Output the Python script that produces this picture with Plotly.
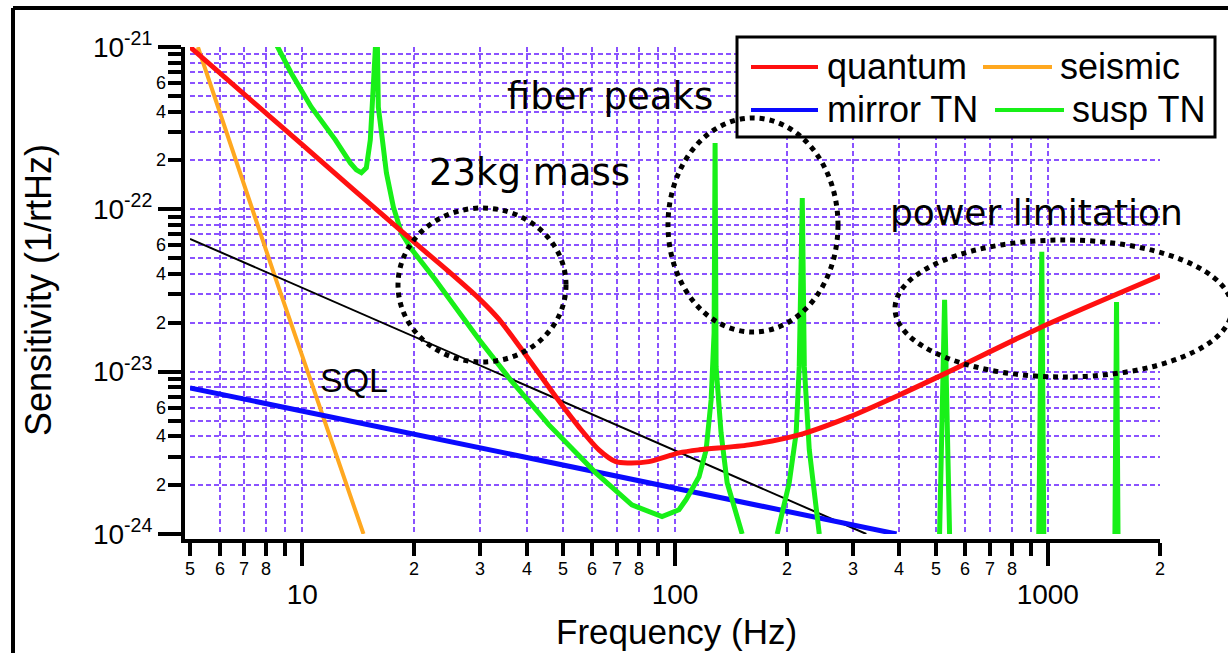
import math
import plotly.graph_objects as go

W, H = 1228, 653

# ---------------- data ----------------
quantum_f = [5, 10, 20, 24.7, 30, 33.6, 38.1, 47.9, 55.2, 62.5, 69.4, 75.2, 85.1, 102.5, 116, 158, 215, 294,
             400, 535, 951, 2000]
quantum_h = [1.0e-21, 2.5e-22, 6.25e-23, 4.14e-23, 2.78e-23, 2.12e-23, 1.45e-23, 7.0e-24, 4.57e-24, 3.30e-24,
             2.79e-24, 2.74e-24, 2.79e-24, 3.16e-24, 3.30e-24, 3.54e-24, 4.08e-24, 5.27e-24, 7.19e-24, 9.83e-24,
             1.86e-23, 3.89e-23]

seismic_f = [5.25, 8.5, 14.6]
seismic_h = [1.0e-21, 3.7e-23, 1.0e-24]

mirror_f = [5, 393]
mirror_h = [7.95e-24, 1.0e-24]

sql_f = [5, 326]
sql_h = [6.58e-23, 1.0e-24]

susp_f = [8.0, 8.62, 9.34, 10.57, 12.27, 13.46, 13.97, 14.41, 14.86, 15.23, 15.43, 15.72, 15.8, 15.91, 16.0,
          16.41, 16.82, 17.56, 18.45, 19.63, 22.78, 29.73, 36.2, 45.9, 61.3, 76.6, 92.3, 102.5, 107.1,
          116.0, 121.2, 125.0, 127.3, 128.1, 128.9, 132.9, 138.0, 151.4, None,
          188.0, 202.5, 211.4, 215.4, 219.5, 222.3, 229.2, 243.8, None,
          512.6, 528.7, 545.2, None,
          945.8, 963.7, 975.5, None,
          1514, 1529, 1543]
susp_h = [1.37e-21, 1.0e-21, 6.92e-22, 4.27e-22, 2.68e-22, 1.93e-22, 1.75e-22, 1.68e-22, 1.80e-22, 2.68e-22,
          4.27e-22, 1.0e-21, 3.0e-21, 1.0e-21, 4.27e-22, 2.68e-22, 1.68e-22, 1.035e-22, 7.16e-23, 5.70e-23,
          3.67e-23, 1.59e-23, 8.91e-24, 4.70e-24, 2.38e-24, 1.51e-24, 1.28e-24, 1.41e-24, 1.63e-24,
          2.25e-24, 3.30e-24, 6.70e-24, 1.73e-23, 2.56e-22, 1.07e-23, 4.20e-24, 2.07e-24, 1.0e-24, None,
          1.0e-24, 2.07e-24, 4.20e-24, 1.07e-23, 1.175e-22, 1.07e-23, 3.30e-24, 1.0e-24, None,
          1.0e-24, 2.77e-23, 1.0e-24, None,
          1.0e-24, 5.47e-23, 1.0e-24, None,
          1.0e-24, 2.69e-23, 1.0e-24]

x_range = [5, 2000]
y_range = [1e-24, 1e-21]

x_major = [10, 100, 1000]
x_major_text = ["10", "100", "1000"]
x_minor = [5, 6, 7, 8, 9, 20, 30, 40, 50, 60, 70, 80, 90, 200, 300, 400, 500, 600, 700, 800, 900, 2000]
x_minor_lab_vals = [5, 6, 7, 8, 20, 30, 40, 50, 60, 70, 80, 200, 300, 400, 500, 600, 700, 800, 2000]
x_minor_lab_text = ["5", "6", "7", "8", "2", "3", "4", "5", "6", "7", "8", "2", "3", "4", "5", "6", "7", "8", "2"]

y_major = [1e-24, 1e-23, 1e-22, 1e-21]
y_major_text = ["10<sup>-24</sup>", "10<sup>-23</sup>", "10<sup>-22</sup>", "10<sup>-21</sup>"]
y_minor = [m * d for d in (1e-24, 1e-23, 1e-22) for m in range(2, 10)]
y_minor_lab_vals = [m * d for d in (1e-24, 1e-23, 1e-22) for m in (2, 4, 6)]
y_minor_lab_text = ["2", "4", "6"] * 3

legend_names = ["quantum", "seismic", "mirror TN", "susp TN"]

# ---------------- styles ----------------
RED, ORANGE, BLUE, GREEN, BLACK = "#ff1010", "#ffa820", "#0a0aff", "#18f018", "#000000"
GRID = "#8a52ff"
DASH = "5px,3px"
FONT = "Liberation Sans, Arial, sans-serif"
HAND = "DejaVu Sans, sans-serif"


def px(xp):
    return xp / W


def py(yp):
    return 1 - yp / H


fig = go.Figure()
fig.add_trace(go.Scatter(x=seismic_f, y=seismic_h, mode="lines", name=legend_names[1],
                         line=dict(color=ORANGE, width=4)))
fig.add_trace(go.Scatter(x=sql_f, y=sql_h, mode="lines", name="SQL",
                         line=dict(color=BLACK, width=2)))
fig.add_trace(go.Scatter(x=mirror_f, y=mirror_h, mode="lines", name=legend_names[2],
                         line=dict(color=BLUE, width=5)))
fig.add_trace(go.Scatter(x=susp_f, y=susp_h, mode="lines", name=legend_names[3], connectgaps=False,
                         line=dict(color=GREEN, width=5)))
fig.add_trace(go.Scatter(x=quantum_f, y=quantum_h, mode="lines", name=legend_names[0],
                         line=dict(color=RED, width=5, shape="spline", smoothing=0.8)))

grid_kw = dict(showgrid=True, gridcolor=GRID, gridwidth=1.5, griddash=DASH)

fig.update_layout(
    width=W, height=H, margin=dict(l=0, r=0, t=0, b=0),
    paper_bgcolor="white", plot_bgcolor="white", showlegend=False,
    font=dict(family=FONT, color="black"),
    xaxis=dict(type="log", range=[math.log10(x_range[0]), math.log10(x_range[1])],
               domain=[px(190), px(1160)], anchor="free", position=py(541),
               showline=True, linewidth=4, linecolor="black", zeroline=False,
               ticks="outside", ticklen=23, tickwidth=4, tickcolor="black",
               tickmode="array", tickvals=x_major, ticktext=x_major_text,
               tickfont=dict(size=28, family=FONT, color="black"), ticklabelstandoff=4,
               automargin=False,
               minor=dict(tickmode="array", tickvals=x_minor, ticks="outside", ticklen=13, tickwidth=4,
                          tickcolor="black", **grid_kw),
               **grid_kw),
    yaxis=dict(type="log", range=[math.log10(y_range[0]), math.log10(y_range[1])],
               domain=[py(534), py(47)], anchor="free", position=px(183),
               showline=True, linewidth=4, linecolor="black", zeroline=False,
               ticks="outside", ticklen=23, tickwidth=4, tickcolor="black",
               tickmode="array", tickvals=y_major, ticktext=y_major_text,
               tickfont=dict(size=28, family=FONT, color="black"),
               automargin=False,
               minor=dict(tickmode="array", tickvals=y_minor, ticks="outside", ticklen=13, tickwidth=4,
                          tickcolor="black", **grid_kw),
               **grid_kw),
)

shapes = []
# outer frame (top and left)
shapes.append(dict(type="line", xref="paper", yref="paper", x0=px(13), x1=px(1230), y0=py(8), y1=py(8),
                   line=dict(color="black", width=4)))
shapes.append(dict(type="line", xref="paper", yref="paper", x0=px(13), x1=px(13), y0=py(8), y1=py(660),
                   line=dict(color="black", width=4)))
# axis corner
shapes.append(dict(type="line", xref="paper", yref="paper", x0=px(183), x1=px(183), y0=py(530), y1=py(543),
                   line=dict(color="black", width=4)))
shapes.append(dict(type="line", xref="paper", yref="paper", x0=px(181), x1=px(194), y0=py(541), y1=py(541),
                   line=dict(color="black", width=4)))
# legend box
shapes.append(dict(type="rect", xref="paper", yref="paper", x0=px(737), x1=px(1215), y0=py(137), y1=py(37),
                   line=dict(color="black", width=3), fillcolor="white"))
leg_items = [
    (RED, 751, 818, 67, 825, legend_names[0]),
    (ORANGE, 983, 1052, 67, 1058, legend_names[1]),
    (BLUE, 751, 818, 110, 825, legend_names[2]),
    (GREEN, 995, 1064, 110, 1070, legend_names[3]),
]
for col, lx0, lx1, ly, tx, name in leg_items:
    shapes.append(dict(type="line", xref="paper", yref="paper", x0=px(lx0), x1=px(lx1), y0=py(ly), y1=py(ly),
                       line=dict(color=col, width=4)))
# dotted ellipses
for cx0, cy0, cx1, cy1 in [(398, 208, 566, 362), (668, 118, 838, 332), (895, 240, 1232, 377)]:
    shapes.append(dict(type="circle", xref="paper", yref="paper", x0=px(cx0), x1=px(cx1), y0=py(cy1), y1=py(cy0),
                       line=dict(color="black", width=5, dash="5px,5px")))

annotations = []
for col, lx0, lx1, ly, tx, name in leg_items:
    annotations.append(dict(text=name, xref="paper", yref="paper", x=px(tx), y=py(ly), xanchor="left",
                            yanchor="middle", showarrow=False, font=dict(size=36, family=FONT, color="black")))
# minor tick labels
for v, t in zip(x_minor_lab_vals, x_minor_lab_text):
    annotations.append(dict(text=t, xref="x", yref="paper", x=math.log10(v), y=py(569), xanchor="center",
                            yanchor="middle", showarrow=False, font=dict(size=18, family=FONT, color="black")))
for v, t in zip(y_minor_lab_vals, y_minor_lab_text):
    annotations.append(dict(text=t, xref="paper", yref="y", x=px(168), y=math.log10(v), xanchor="right",
                            yanchor="middle", showarrow=False, font=dict(size=18, family=FONT, color="black")))
# axis titles
annotations.append(dict(text="Frequency (Hz)", xref="paper", yref="paper", x=px(676), y=py(631),
                        xanchor="center", yanchor="middle", showarrow=False,
                        font=dict(size=35, family=FONT, color="black")))
annotations.append(dict(text="Sensitivity (1/rtHz)", xref="paper", yref="paper", x=px(38), y=py(290),
                        xanchor="center", yanchor="middle", textangle=-90, showarrow=False,
                        font=dict(size=36, family=FONT, color="black")))
# chart notes
for txt, cx, cy, fam, size in [("fiber peaks", 610, 97, HAND, 37), ("23kg mass", 529, 172, HAND, 37),
                               ("power limitation", 1036, 212, HAND, 36), ("SQL", 354, 380, FONT, 34)]:
    annotations.append(dict(text=txt, xref="paper", yref="paper", x=px(cx), y=py(cy), xanchor="center",
                            yanchor="middle", showarrow=False, font=dict(size=size, family=fam, color="black")))

fig.update_layout(shapes=shapes, annotations=annotations)
fig.write_html("out.html")
